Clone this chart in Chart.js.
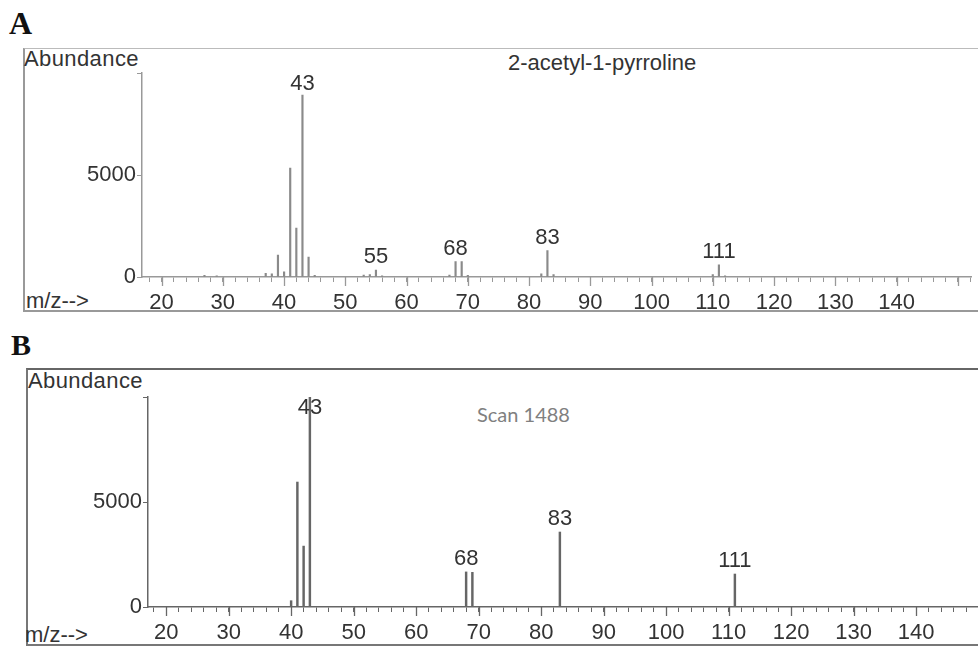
<!DOCTYPE html>
<html>
<head>
<meta charset="utf-8">
<script src="https://cdn.jsdelivr.net/npm/chart.js@4.4.1/dist/chart.umd.min.js"></script>
<style>
body{margin:0;width:978px;height:648px;background:#fff;position:relative;overflow:hidden;font-family:"Liberation Sans",Arial,sans-serif;color:#333;}
.t{position:absolute;white-space:nowrap;font-size:22px;line-height:22px;}
.frame{position:absolute;}
canvas{position:absolute;}
</style>
</head>
<body>
<div class="t" style="left:9px;top:7px;font:bold 32px/32px 'Liberation Serif',serif;color:#111">A</div>
<div class="frame" style="left:23px;top:48px;width:970px;height:261px;border-left:2px solid #999;border-top:1px solid #bbb;border-bottom:2px solid #999"></div>
<div class="t" style="left:24px;top:48px;letter-spacing:0.4px">Abundance</div>
<div class="t" style="left:508px;top:52px">2-acetyl-1-pyrroline</div>
<div class="t" style="left:26px;top:290px">m/z--&gt;</div>
<canvas id="specA" width="954" height="264" style="left:24px;top:48px"></canvas>

<div class="t" style="left:11px;top:330px;font:bold 30px/30px 'Liberation Serif',serif;color:#111">B</div>
<div class="frame" style="left:26px;top:368px;width:970px;height:274px;border-left:2px solid #777;border-top:2px solid #666;border-bottom:2px solid #777"></div>
<div class="t" style="left:28px;top:370px;letter-spacing:0.4px">Abundance</div>
<div class="t" style="left:477px;top:404px;font:20px/20px Lato,sans-serif;color:#808080">Scan 1488</div>
<div class="t" style="left:25px;top:624px">m/z--&gt;</div>
<canvas id="specB" width="951" height="277" style="left:27px;top:368px"></canvas>

<script>
// A: 2-acetyl-1-pyrroline reference spectrum
var mzA =    [27, 29, 37, 38, 39, 40, 41, 42, 43, 44, 45, 53, 54, 55, 56, 67, 68, 69, 70, 82, 83, 84, 110, 111, 112];
var abundA = [80, 60, 180, 150, 1080, 250, 5340, 2400, 8920, 980, 80, 100, 120, 340, 60, 100, 750, 750, 80, 150, 1300, 120, 120, 600, 60];
var labelsA = [43, 55, 68, 83, 111];

// B: Scan 1488
var mzB =    [40, 41, 42, 43, 68, 69, 83, 111];
var abundB = [300, 5950, 2900, 10000, 1670, 1650, 3570, 1570];
var labelsB = [43, 68, 83, 111];

var yTicks = [0, 5000];
var xTickLabels = [20, 30, 40, 50, 60, 70, 80, 90, 100, 110, 120, 130, 140];

var FONT = '"Liberation Sans", Arial, sans-serif';

var peakLabels = {
	id: 'peakLabels',
	afterDatasetsDraw: function(chart, args, opts) {
		var ctx = chart.ctx;
		var meta = chart.getDatasetMeta(0);
		var pts = chart.data.datasets[0].data;
		ctx.save();
		ctx.font = '22px ' + FONT;
		ctx.fillStyle = '#333';
		ctx.textAlign = 'center';
		ctx.textBaseline = 'middle';
		opts.peaks.forEach(function(p){
			var i = pts.findIndex(function(d){ return d.x === p; });
			var bar = meta.data[i];
			var y = Math.max(bar.y - 13, chart.chartArea.top + 11);
			ctx.fillText(String(p), bar.x, y);
		});
		ctx.restore();
	}
};

// longer tick marks on every 10 m/z
var majorTicks = {
	id: 'majorTicks',
	afterDraw: function(chart, args, opts) {
		var x = chart.scales.x;
		var ctx = chart.ctx;
		ctx.save();
		ctx.strokeStyle = opts.color;
		ctx.lineWidth = 1.3;
		for (var v = 20; v <= x.max; v += 10) {
			var px = Math.round(x.getPixelForValue(v)) + 0.5;
			ctx.beginPath();
			ctx.moveTo(px, x.top);
			ctx.lineTo(px, x.top + 9);
			ctx.stroke();
		}
		ctx.restore();
	}
};

function spectrum(id, mz, abund, peaks, o) {
	var pts = mz.map(function(m, i){ return {x: m, y: abund[i]}; });
	return new Chart(document.getElementById(id), {
		type: 'bar',
		data: {
			datasets: [{
				data: pts,
				backgroundColor: o.barColor,
				borderWidth: 0,
				barThickness: o.barWidth
			}]
		},
		plugins: [peakLabels, majorTicks],
		options: {
			responsive: false,
			animation: false,
			devicePixelRatio: 1,
			layout: {padding: {top: o.top, left: 0, right: 0, bottom: 0}},
			plugins: {
				legend: {display: false},
				tooltip: {enabled: false},
				peakLabels: {peaks: peaks},
				majorTicks: {color: o.axisColor}
			},
			scales: {
				x: {
					type: 'linear',
					min: o.xmin,
					max: o.xmax,
					offset: false,
					border: {color: o.axisColor, width: 1.5},
					grid: {drawOnChartArea: false, offset: false, tickLength: 5, color: o.axisColor},
					ticks: {
						stepSize: 2,
						includeBounds: false,
						autoSkip: false,
						maxRotation: 0,
						padding: o.xpad,
						color: '#333',
						font: {family: FONT, size: 22},
						callback: function(v){ return xTickLabels.indexOf(v) >= 0 ? v : ''; }
					},
					afterFit: function(s){ s.height = o.xh; }
				},
				y: {
					min: 0,
					max: 10000,
					border: {color: o.axisColor, width: 1.5},
					grid: {drawOnChartArea: false, tickLength: 5, color: o.axisColor},
					ticks: {
						stepSize: 5000,
						padding: 1,
						color: '#333',
						font: {family: FONT, size: 22},
						callback: function(v){ return yTicks.indexOf(v) >= 0 ? v : ''; }
					},
					afterFit: function(s){ s.width = o.yw; }
				}
			}
		}
	});
}

spectrum('specA', mzA, abundA, labelsA, {
	xmin: 16.8, xmax: 152.2, top: 25, yw: 118, xh: 35, xpad: 8,
	barColor: '#8a8a8a', barWidth: 1.5, axisColor: '#999'
});
spectrum('specB', mzB, abundB, labelsB, {
	xmin: 17.1, xmax: 149.9, top: 29, yw: 121, xh: 38, xpad: 8,
	barColor: '#666', barWidth: 1.8, axisColor: '#666'
});
</script>
</body>
</html>
